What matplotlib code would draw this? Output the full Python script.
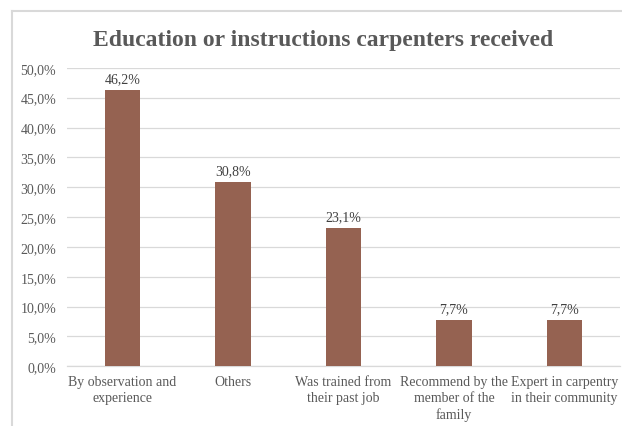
import matplotlib
matplotlib.use("Agg")
from matplotlib import pyplot as plt
from matplotlib.lines import Line2D
from matplotlib.ticker import FuncFormatter

categories = ["By observation and\nexperience", "Others", "Was trained from\ntheir past job",
              "Recommend by the\nmember of the\nfamily", "Expert in carpentry\nin their community"]
shares = [46.2, 30.8, 23.1, 7.7, 7.7]
y_ticks = [0, 5, 10, 15, 20, 25, 30, 35, 40, 45, 50]

plt.rcParams['font.family'] = ['Liberation Serif', 'DejaVu Serif']
text_col = '#595959'
grid_col = '#d9d9d9'

fig = plt.figure(figsize=(6.22, 4.27), dpi=100)
ax = fig.add_axes([67.25/622, 1 - 367.3/427, 552.5/622, 298.5/427])

x = range(len(categories))
bars = ax.bar(x, shares, width=0.317, color='#956251', zorder=3)
for b, v in zip(bars, shares):
    ax.annotate(f"{v:.1f}%".replace('.', ','), (b.get_x() + b.get_width()/2, v),
                xytext=(0, 6), textcoords='offset points', ha='center', va='baseline',
                fontsize=10, color='#404040')

ax.set_xlim(-0.5, len(categories) - 0.5)
ax.set_ylim(0, 50)
ax.set_yticks(y_ticks)
ax.yaxis.set_major_formatter(FuncFormatter(lambda v, p: f"{v:.1f}%".replace('.', ',')))
ax.set_xticks(list(x))
ax.set_xticklabels(categories, linespacing=1.3)
ax.tick_params(axis='y', length=0, pad=8, labelsize=10, labelcolor=text_col)
ax.tick_params(axis='x', length=0, pad=6, labelsize=10, labelcolor=text_col)
ax.grid(axis='y', color=grid_col, linewidth=0.9, zorder=0)
for s in ['top', 'right', 'left']:
    ax.spines[s].set_visible(False)
ax.spines['bottom'].set_color(grid_col)
ax.spines['bottom'].set_linewidth(0.9)

fig.text(323.5/622, 1 - 46/427, "Education or instructions carpenters received",
         ha='center', va='baseline', fontsize=17, fontweight='bold', color=text_col)

# light outer frame
fig.add_artist(Line2D([11.5/622, 11.5/622], [0, 1 - 11.5/427], transform=fig.transFigure,
                      color=grid_col, linewidth=1.5))
fig.add_artist(Line2D([11.5/622, 1], [1 - 11.5/427, 1 - 11.5/427], transform=fig.transFigure,
                      color=grid_col, linewidth=1.5))

fig.savefig('out.png', dpi=100)
